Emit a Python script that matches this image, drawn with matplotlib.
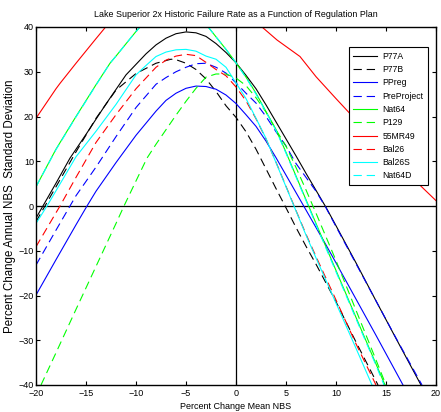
import matplotlib
matplotlib.use("Agg")
import matplotlib.pyplot as plt

plt.rcParams['font.family'] = ['Liberation Sans', 'DejaVu Sans']
plt.rcParams['lines.scale_dashes'] = False

title = "Lake Superior 2x Historic Failure Rate as a Function of Regulation Plan"
xlabel = "Percent Change Mean NBS"
ylabel = "Percent Change Annual NBS  Standard Deviation"
xticks = [-20, -15, -10, -5, 0, 5, 10, 15, 20]
yticks = [-40, -30, -20, -10, 0, 10, 20, 30, 40]

# ---- series ----
P77A_x = [-20, -18, -16.6, -15, -13, -11, -9, -8, -7, -6, -5, -4, -3, -2, -1, 0, 1, 2, 3, 4, 5, 6, 7, 8, 9, 10, 12, 14, 16, 18.5]
P77A_y = [-2.7, 5.1, 10.7, 16.0, 22.8, 29.3, 34.0, 36.0, 37.5, 38.5, 38.9, 38.7, 37.9, 36.3, 34.3, 32.0, 29.2, 26.2, 22.6, 18.8, 15.0, 11.2, 7.3, 3.5, -0.3, -4.4, -12.7, -21.2, -29.6, -40]

P77B_x = [-20, -18, -16, -14, -12, -10, -8, -7, -6.5, -6, -5, -4, -3, -2, -1, 0, 1, 2, 3, 4, 5, 6, 7, 8, 10, 12, 14.2]
P77B_y = [-3.5, 4.3, 12.1, 19.6, 25.9, 29.6, 31.9, 32.5, 32.8, 32.7, 31.9, 30.5, 28.4, 25.6, 22.4, 19.8, 16.6, 12.7, 8.3, 3.9, -0.4, -4.8, -9.0, -13.0, -21.4, -30.4, -40]

PPreg_x = [-20, -18, -16, -14.9, -14, -12, -10, -8, -7, -6, -5, -4, -3, -2, -1, 0, 1, 2, 3, 4, 5, 6, 7, 8, 9, 10, 12, 14, 16.7]
PPreg_y = [-19.9, -12.0, -4.2, 0, 3.3, 9.7, 15.8, 21.2, 23.6, 25.2, 26.3, 26.8, 26.7, 26.1, 24.8, 22.9, 20.4, 17.8, 14.5, 10.8, 6.9, 3.0, -0.9, -4.8, -8.7, -12.7, -20.8, -28.9, -40]

PreProject_x = [-20, -18, -16.6, -16, -14, -12, -10, -8, -7, -6, -5, -4, -3, -2, -1, 0, 1, 2, 3, 4, 5, 6, 7, 8, 9, 10, 12, 14, 16, 18.6]
PreProject_y = [-13.2, -5.4, 0, 2.3, 8.7, 15.5, 22.0, 27.2, 28.7, 30.0, 31.0, 31.8, 31.9, 31.0, 29.7, 27.5, 25.2, 23.0, 20.0, 16.6, 13.4, 9.5, 6.4, 3.3, -0.4, -4.6, -12.9, -21.2, -29.5, -40]

Nat64_x = [-20, -18, -16, -14, -12.6, -12, -10, -8, -6, -4, -3, -2, -1, 0, 1, 2, 3, 4, 5, 6, 7, 8, 10, 12, 14, 14.9]
Nat64_y = [4.3, 12.7, 20.0, 27.1, 31.9, 33.5, 39.0, 44.0, 45.5, 43.2, 40.6, 37.8, 35.0, 32.0, 28.8, 25.2, 21.1, 17.1, 12.0, 6.7, 1.4, -3.9, -14.4, -24.9, -35.3, -40]

P129_x = [-19.5, -18, -16, -14, -12, -11.2, -10, -8.9, -8, -6, -5, -4, -3, -2, -1, 0, 1, 2, 3, 4, 5, 6, 7, 8, 10, 12, 14, 15.0]
P129_y = [-40, -32.8, -23.1, -13.5, -3.9, 0, 5.6, 10.7, 13.8, 20.3, 23.4, 26.3, 28.8, 29.5, 29.5, 28.6, 26.9, 24.2, 21.0, 17.0, 13.4, 8.6, 3.6, -1.6, -12.2, -23.3, -34.4, -40]

MR49_x = [-20, -18, -17.6, -16, -14, -13, -10, -7, -5, -3, 0, 2.6, 4.1, 6.4, 8, 10, 12, 14, 16, 18, 20]
MR49_y = [19.6, 26.2, 27.4, 31.9, 37.4, 40.1, 47.5, 51.0, 52.0, 51.0, 46.0, 40.0, 37.1, 33.4, 28.9, 24.0, 19.2, 14.4, 9.8, 5.5, 1.2]

Bal26_x = [-20, -18, -17.6, -16, -14, -12, -10, -8, -7, -6, -5, -4, -3, -2, -1, 0, 1, 2, 3, 4, 5, 6, 7, 8, 10, 12, 14.0]
Bal26_y = [-9.1, -1.5, 0, 6.4, 14.2, 20.4, 26.2, 31.0, 32.6, 33.5, 33.9, 33.6, 32.1, 30.5, 29.1, 26.6, 23.5, 19.5, 15.0, 9.8, 4.4, -1.0, -6.3, -11.3, -21.0, -30.8, -40]

Bal26S_x = [-20, -18.9, -18, -16, -14, -12, -10, -9, -8, -7, -6, -5, -4, -3, -2, -1, 0, 1, 2, 3, 4, 5, 6, 7, 8, 10, 12, 13.6]
Bal26S_y = [-3.9, 0, 3.4, 11.0, 16.7, 22.7, 29.3, 31.4, 33.4, 34.4, 34.9, 35.0, 34.6, 33.5, 32.8, 31.0, 27.5, 24.0, 19.6, 15.1, 9.7, 4.3, -1.1, -6.5, -11.6, -21.7, -31.8, -40]

Nat64D_x = [-20, -18, -16, -14, -12.6, -12, -10, -8, -6, -4, -3, -2, -1, 0, 1, 2, 3, 4, 5, 6, 7, 8, 10, 12, 14, 14.8]
Nat64D_y = [4.3, 12.6, 19.9, 27.0, 31.9, 33.5, 39.0, 44.0, 45.5, 43.2, 40.6, 37.8, 35.0, 32.0, 28.7, 25.0, 21.0, 16.9, 11.8, 6.5, 1.2, -4.2, -14.7, -25.2, -35.6, -40]

series = [
    ("P77A", P77A_x, P77A_y, "k", "-"),
    ("P77B", P77B_x, P77B_y, "k", "--"),
    ("PPreg", PPreg_x, PPreg_y, "b", "-"),
    ("PreProject", PreProject_x, PreProject_y, "b", "--"),
    ("Nat64", Nat64_x, Nat64_y, "#00ff00", "-"),
    ("P129", P129_x, P129_y, "#00ff00", "--"),
    ("55MR49", MR49_x, MR49_y, "r", "-"),
    ("Bal26", Bal26_x, Bal26_y, "r", "--"),
    ("Bal26S", Bal26S_x, Bal26S_y, "#00ffff", "-"),
    ("Nat64D", Nat64D_x, Nat64D_y, "#00ffff", "--"),
]

fig = plt.figure(figsize=(4.41, 4.12), dpi=100)
ax = fig.add_axes([36/441, 27/412, 400/441, 358/412])

ax.axhline(0, color="k", lw=0.9, zorder=1)
ax.axvline(0, color="k", lw=0.9, zorder=1)

for name, xs, ys, c, ls in series:
    if ls == "--":
        ax.plot(xs, ys, color=c, lw=0.8, dashes=(6, 3.5), label=name, zorder=2)
    else:
        ax.plot(xs, ys, color=c, lw=0.8, label=name, zorder=2)

ax.set_xlim(-20, 20)
ax.set_ylim(-40, 40)
ax.set_xticks(xticks)
ax.set_yticks(yticks)
ax.tick_params(direction="in", top=True, right=True, length=3, width=0.8,
               labelsize=6.5)
ax.tick_params(axis="x", pad=3)
ax.tick_params(axis="y", pad=1.5)
for s in ax.spines.values():
    s.set_linewidth(1.0)

ax.set_title(title, fontsize=6.4, pad=7)
ax.set_xlabel(xlabel, fontsize=6.5, labelpad=3)
ax.set_ylabel(ylabel, fontsize=8.3, labelpad=2)

leg = ax.legend(loc="upper right", bbox_to_anchor=(0.99, 0.955), fontsize=6.2,
                handlelength=2.8, handletextpad=0.6, labelspacing=0.5,
                borderpad=0.5, fancybox=False, framealpha=1, edgecolor="k")
leg.get_frame().set_linewidth(0.8)

fig.savefig("out.png", dpi=100)
